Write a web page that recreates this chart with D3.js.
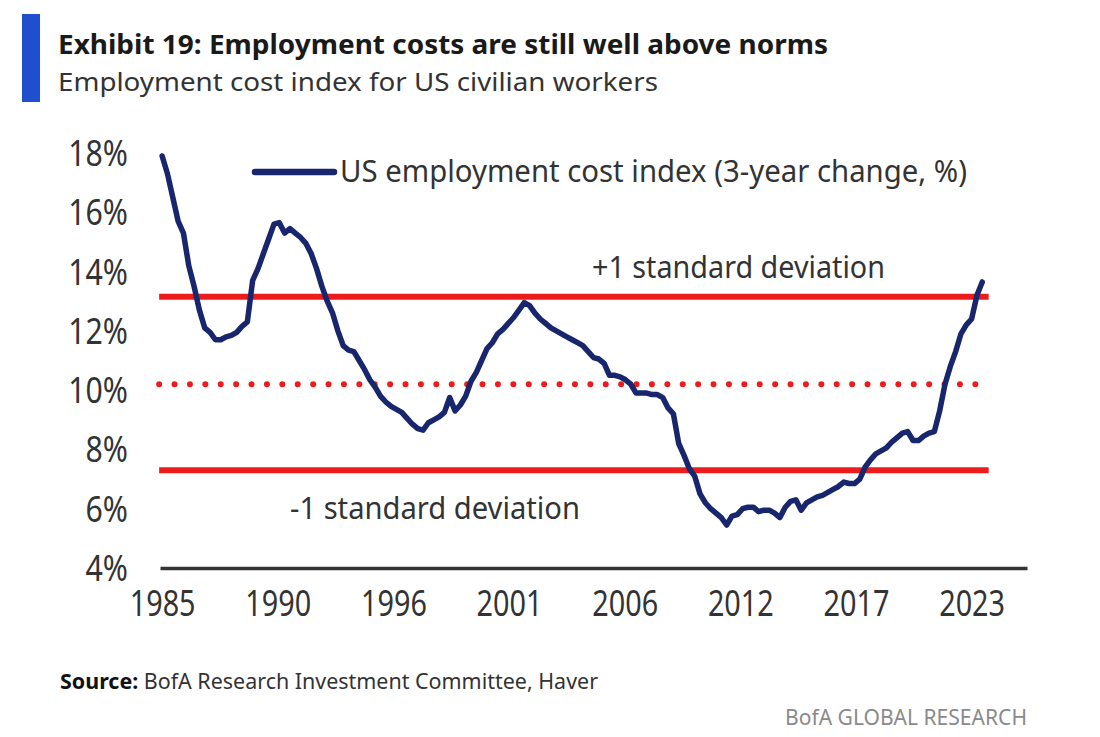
<!DOCTYPE html>
<html>
<head>
<meta charset="utf-8">
<script src="https://cdn.jsdelivr.net/npm/d3@7"></script>
<style>
  body { margin: 0; background: #fff; }
  text { font-family: "Noto Sans", "Open Sans", sans-serif; }
</style>
</head>
<body>
<svg id="chart" width="1100" height="737"></svg>
<script>

// Quarterly series, first point = 1985 Q1
const firstYear = 1985;
const eciChange = [
  17.9, 17.3, 16.5, 15.7,   // 1985
  15.3, 14.2, 13.5, 12.7,   // 1986
  12.1, 11.95, 11.7, 11.7,  // 1987
  11.8, 11.85, 11.95, 12.15,// 1988
  12.3, 13.7, 14.1, 14.6,   // 1989
  15.1, 15.6, 15.65, 15.3,  // 1990
  15.45, 15.3, 15.15, 14.95,// 1991
  14.6, 14.1, 13.5, 13.0,   // 1992
  12.6, 12.0, 11.5, 11.35,  // 1993
  11.3, 11.0, 10.7, 10.35,  // 1994
  10.1, 9.8, 9.6, 9.45,     // 1995
  9.35, 9.25, 9.05, 8.85,   // 1996
  8.7, 8.65, 8.9, 9.0,      // 1997
  9.1, 9.25, 9.75, 9.3,     // 1998
  9.5, 9.8, 10.3, 10.6,     // 1999
  11.0, 11.4, 11.6, 11.9,   // 2000
  12.05, 12.25, 12.45, 12.7,// 2001
  12.95, 12.85, 12.6, 12.4, // 2002
  12.25, 12.1, 12.0, 11.9,  // 2003
  11.8, 11.7, 11.6, 11.5,   // 2004
  11.3, 11.1, 11.05, 10.9,  // 2005
  10.5, 10.5, 10.45, 10.35, // 2006
  10.2, 9.9, 9.9, 9.9,      // 2007
  9.85, 9.85, 9.75, 9.4,    // 2008
  9.2, 8.2, 7.8, 7.35,      // 2009
  7.1, 6.5, 6.2, 6.0,       // 2010
  5.85, 5.7, 5.45, 5.75,    // 2011
  5.8, 6.0, 6.05, 6.05,     // 2012
  5.9, 5.95, 5.95, 5.85,    // 2013
  5.7, 6.05, 6.25, 6.3,     // 2014
  5.95, 6.2, 6.3, 6.4,      // 2015
  6.45, 6.55, 6.65, 6.75,   // 2016
  6.9, 6.85, 6.85, 7.0,     // 2017
  7.4, 7.65, 7.85, 7.95,    // 2018
  8.05, 8.25, 8.4, 8.55,    // 2019
  8.6, 8.3, 8.3, 8.45,      // 2020
  8.55, 8.6, 9.3, 10.2,     // 2021
  10.8, 11.3, 11.9, 12.2,   // 2022
  12.4, 13.2, 13.65         // 2023
];

const yearLabels = ["1985", "1990", "1996", "2001", "2006", "2012", "2017", "2023"];
const yTicks = [4, 6, 8, 10, 12, 14, 16, 18];

// Reference lines: mean and +/- 1 standard deviation
const refLines = [
  { id: "plus",  value: 13.15, dotted: false, label: "+1 standard deviation" },
  { id: "mean",  value: 10.2,  dotted: true,  label: null },
  { id: "minus", value: 7.3,   dotted: false, label: "-1 standard deviation" }
];
const refLineEnd = 2023.8;

const legendLabel = "US employment cost index (3-year change, %)";

const navy = "#18266e";
const red = "#ec1c1c";

const data = eciChange.map((v, i) => ({ t: firstYear + i / 4, v }));

const svg = d3.select("#chart");

const xScale = d3.scaleLinear().domain([1984.9, 2025.6]).range([160, 1027]);
const yScale = d3.scaleLinear().domain([4, 18]).range([568, 153]);

//Squeeze text horizontally to mimic the condensed house font
const fit = (sel, width) => sel
  .attr("textLength", width)
  .attr("lengthAdjust", "spacingAndGlyphs");

const condense = (sel, k) => sel.each(function () {
  const w = this.getComputedTextLength();
  d3.select(this).attr("textLength", w * k).attr("lengthAdjust", "spacingAndGlyphs");
});

// Header
svg.append("rect")
  .attr("x", 22).attr("y", 14)
  .attr("width", 18).attr("height", 88)
  .attr("fill", "#1f4fcf");

svg.append("text")
  .attr("x", 58).attr("y", 54)
  .attr("font-size", 27)
  .attr("font-weight", 700)
  .attr("fill", "#1a1a1a")
  .text("Exhibit 19: Employment costs are still well above norms")
  .call(fit, 770);

svg.append("text")
  .attr("x", 58).attr("y", 91)
  .attr("font-size", 26)
  .attr("fill", "#333")
  .text("Employment cost index for US civilian workers")
  .call(fit, 600);

// Y tick labels (no axis line)
svg.append("g")
  .selectAll("text")
  .data(yTicks)
  .join("text")
    .attr("x", 128)
    .attr("y", d => yScale(d))
    .attr("dy", "0.36em")
    .attr("text-anchor", "end")
    .attr("font-size", 36)
    .attr("fill", "#333")
    .text(d => `${d}%`)
    .call(condense, 0.84);

// X axis
const tickYears = yearLabels.map((_, i) =>
  +yearLabels[0] + i * (+yearLabels[yearLabels.length - 1] - +yearLabels[0]) / (yearLabels.length - 1));

const xAxis = d3.axisBottom(xScale)
  .tickValues(tickYears)
  .tickFormat((d, i) => yearLabels[i])
  .tickSize(0)
  .tickPadding(22);

const xAxisG = svg.append("g")
  .attr("transform", `translate(0, ${yScale(4)})`)
  .call(xAxis);

xAxisG.select(".domain")
  .attr("stroke", "#333")
  .attr("stroke-width", 3.5);

xAxisG.selectAll(".tick text")
  .attr("font-size", 36)
  .attr("font-family", "'Noto Sans', 'Open Sans', sans-serif")
  .attr("fill", "#333")
  .call(condense, 0.8);

// Reference lines
svg.append("g")
  .selectAll("line")
  .data(refLines)
  .join("line")
    .attr("x1", xScale(firstYear) - 3)
    .attr("x2", xScale(refLineEnd))
    .attr("y1", d => yScale(d.value))
    .attr("y2", d => yScale(d.value))
    .attr("stroke", red)
    .attr("stroke-width", d => d.dotted ? 6 : 6)
    .attr("stroke-linecap", d => d.dotted ? "round" : "butt")
    .attr("stroke-dasharray", d => d.dotted ? "0 15.4" : null);

// Reference line labels
svg.append("text")
  .attr("x", 592).attr("y", yScale(refLines[0].value) - 19)
  .attr("font-size", 31)
  .attr("fill", "#333")
  .text(refLines[0].label)
  .call(fit, 293);

svg.append("text")
  .attr("x", 290).attr("y", yScale(refLines[2].value) + 49)
  .attr("font-size", 31)
  .attr("fill", "#333")
  .text(refLines[2].label)
  .call(fit, 290);

// Series line
const line = d3.line()
  .x(d => xScale(d.t))
  .y(d => yScale(d.v));

svg.append("path")
  .datum(data)
  .attr("d", line)
  .attr("fill", "none")
  .attr("stroke", navy)
  .attr("stroke-width", 5.5)
  .attr("stroke-linejoin", "round")
  .attr("stroke-linecap", "round");

// Legend
svg.append("line")
  .attr("x1", 255).attr("x2", 334)
  .attr("y1", 172).attr("y2", 172)
  .attr("stroke", navy)
  .attr("stroke-width", 6.5)
  .attr("stroke-linecap", "round");

svg.append("text")
  .attr("x", 340).attr("y", 182)
  .attr("font-size", 31)
  .attr("fill", "#333")
  .text(legendLabel)
  .call(fit, 627);

// Footer
const source = svg.append("text")
  .attr("x", 60).attr("y", 689)
  .attr("font-size", 21)
  .attr("fill", "#333");
source.append("tspan")
  .attr("font-weight", 700)
  .attr("fill", "#111")
  .text("Source:");
source.append("tspan")
  .text("  BofA Research Investment Committee, Haver");
source.call(fit, 538);

svg.append("text")
  .attr("x", 785).attr("y", 725)
  .attr("font-size", 21)
  .attr("fill", "#8a8a8a")
  .text("BofA GLOBAL RESEARCH")
  .call(fit, 242);

</script>
</body>
</html>
